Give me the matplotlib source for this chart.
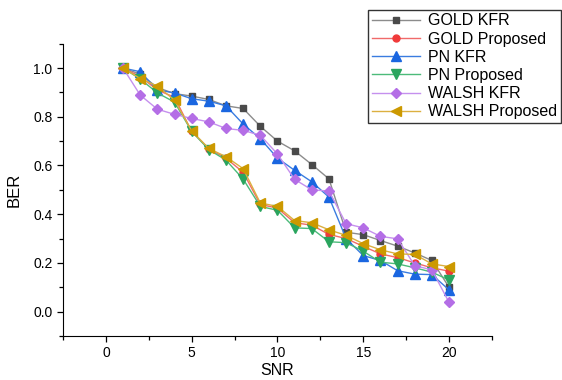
import matplotlib
matplotlib.use("Agg")
from matplotlib import pyplot as plt
from matplotlib.ticker import MultipleLocator

plt.rcParams["font.family"] = ["Liberation Sans", "DejaVu Sans"]

snr = list(range(1, 21))

gold_kfr = [1.0, 0.975, 0.92, 0.895, 0.885, 0.871, 0.845, 0.834, 0.761, 0.70,
            0.66, 0.604, 0.545, 0.326, 0.316, 0.292, 0.269, 0.241, 0.21, 0.10]
gold_prop = [1.0, 0.965, 0.91, 0.88, 0.74, 0.668, 0.63, 0.572, 0.44, 0.425,
             0.365, 0.355, 0.317, 0.30, 0.268, 0.237, 0.222, 0.2, 0.18, 0.166]
pn_kfr = [1.0, 0.985, 0.91, 0.898, 0.874, 0.864, 0.845, 0.77, 0.71, 0.63,
          0.58, 0.533, 0.47, 0.30, 0.23, 0.21, 0.168, 0.154, 0.152, 0.089]
pn_prop = [1.0, 0.955, 0.898, 0.86, 0.74, 0.665, 0.622, 0.544, 0.432, 0.416,
           0.344, 0.341, 0.287, 0.283, 0.248, 0.203, 0.196, 0.18, 0.162, 0.13]
walsh_kfr = [1.0, 0.889, 0.831, 0.81, 0.793, 0.779, 0.752, 0.744, 0.724, 0.647,
             0.543, 0.5, 0.495, 0.361, 0.344, 0.309, 0.299, 0.189, 0.171, 0.038]
walsh_prop = [1.0, 0.957, 0.926, 0.868, 0.742, 0.67, 0.636, 0.587, 0.446, 0.432,
              0.374, 0.365, 0.336, 0.313, 0.279, 0.254, 0.237, 0.235, 0.196, 0.185]

series = [
    ("GOLD KFR", gold_kfr, "#4a4a4a", "#8c8c8c", "s", 5),
    ("GOLD Proposed", gold_prop, "#f03a3a", "#f06a6a", "o", 5),
    ("PN KFR", pn_kfr, "#1a66e0", "#3a7ce0", "^", 6.5),
    ("PN Proposed", pn_prop, "#2aa55e", "#4cbb7a", "v", 6.5),
    ("WALSH KFR", walsh_kfr, "#b46ee6", "#c590ee", "D", 5.5),
    ("WALSH Proposed", walsh_prop, "#cc9900", "#dcb040", "<", 7.5),
]

fig = plt.figure(figsize=(5.62, 3.80), dpi=100)
ax = fig.add_axes([0.1121, 0.1158, 0.7633, 0.7692])

for name, y, mc, lc, m, ms in series:
    ax.plot(snr, y, color=lc, lw=1.0, marker=m, ms=ms,
            markerfacecolor=mc, markeredgecolor=mc, label=name)

ax.set_xlim(-2.5, 22.5)
ax.set_ylim(-0.1, 1.1)
ax.xaxis.set_major_locator(MultipleLocator(5))
ax.xaxis.set_minor_locator(MultipleLocator(2.5))
ax.yaxis.set_major_locator(MultipleLocator(0.2))
ax.yaxis.set_minor_locator(MultipleLocator(0.1))
ax.yaxis.set_major_formatter(plt.FormatStrFormatter("%.1f"))
ax.tick_params(which="both", direction="out", labelsize=10, width=0.9)
ax.tick_params(which="major", length=4)
ax.tick_params(which="minor", length=3)
for s in ["top", "right"]:
    ax.spines[s].set_visible(False)

ax.set_xlabel("SNR", fontsize=11.5, labelpad=2)
ax.set_ylabel("BER", fontsize=12, labelpad=8)

leg = fig.legend(loc="upper left", bbox_to_anchor=(0.655, 0.975), fontsize=11.5,
                 frameon=True, fancybox=False, edgecolor="black",
                 handlelength=3.0, borderpad=0.25, labelspacing=0.2,
                 handletextpad=0.5, borderaxespad=0)
leg.get_frame().set_linewidth(1.0)

fig.savefig("out.png", dpi=100)
